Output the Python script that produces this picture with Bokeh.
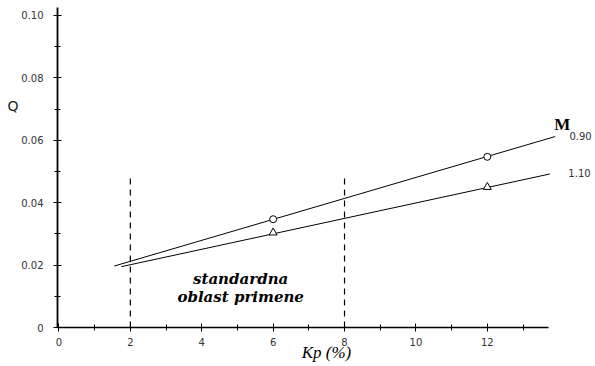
from bokeh.plotting import figure
from bokeh.models import Range1d, FixedTicker, CustomJSTickFormatter, Label, LinearAxis
from bokeh.embed import file_html
from bokeh.resources import INLINE

# ---- data ----
x_ticks = [0, 2, 4, 6, 8, 10, 12]
x_minor = [1, 3, 5, 7, 9, 11, 13]
y_ticks = [0, 0.02, 0.04, 0.06, 0.08, 0.10]
y_minor = [0.01, 0.03, 0.05, 0.07, 0.09]

m090_line_x = [1.55, 13.9]
m090_line_y = [0.0197, 0.0612]
m090_pts_x = [6, 12]
m090_pts_y = [0.0347, 0.0547]

m110_line_x = [1.75, 13.75]
m110_line_y = [0.0195, 0.0492]
m110_pts_x = [6, 12]
m110_pts_y = [0.0304, 0.0450]

zone_x = [2, 8]
zone_bottom = [0, 0]
zone_top = [0.0487, 0.0487]

series_labels = ["0.90", "1.10"]

# ---- figure ----
p = figure(width=595, height=366, output_backend="svg", toolbar_location=None,
           x_range=Range1d(-0.04, 15.03), y_range=Range1d(0, 0.1048),
           min_border_left=57, min_border_right=0, min_border_top=0, min_border_bottom=39)
p.outline_line_color = None
p.xgrid.visible = False
p.ygrid.visible = False
p.background_fill_color = "white"
p.border_fill_color = "white"

# axes
xa = p.xaxis[0]
xa.ticker = FixedTicker(ticks=x_ticks, minor_ticks=x_minor)
xa.bounds = (-0.04, 13.7)
xa.axis_line_width = 1.3
xa.axis_line_color = "black"
xa.major_tick_in = 4
xa.major_tick_out = 4
xa.minor_tick_in = 3
xa.minor_tick_out = 3
xa.major_label_standoff = 6
xa.major_label_text_font = "DejaVu Sans"
xa.major_label_text_font_size = "10px"
xa.major_label_text_color = "#333333"
xa.axis_label = "Kp (%)"
xa.axis_label_text_font = "Liberation Serif"
xa.axis_label_text_font_size = "17px"
xa.axis_label_text_font_style = "italic"
xa.axis_label_text_color = "black"
xa.axis_label_standoff = -6

ya = p.yaxis[0]
ya.ticker = FixedTicker(ticks=y_ticks, minor_ticks=y_minor)
ya.bounds = (0, 0.1025)
ya.axis_line_width = 1.8
ya.axis_line_color = "black"
ya.major_tick_in = 4
ya.major_tick_out = 4
ya.minor_tick_in = 3
ya.minor_tick_out = 3
ya.major_label_standoff = 10
ya.major_label_text_font = "DejaVu Sans"
ya.major_label_text_font_size = "10px"
ya.major_label_text_color = "#333333"
ya.formatter = CustomJSTickFormatter(code='return tick == 0 ? "0" : tick.toFixed(2);')

# Q title on the left (extra blank lines push it up toward the top)
qa = LinearAxis(ticker=FixedTicker(ticks=[]), axis_line_color=None,
                major_tick_in=0, major_tick_out=0, minor_tick_in=0, minor_tick_out=0,
                major_label_text_font_size="0px",
                axis_label="Q" + "\n" * 6, axis_label_text_font="DejaVu Sans",
                axis_label_text_font_size="14px", axis_label_text_color="#222222",
                axis_label_text_font_style="normal",
                axis_label_standoff=0, axis_label_orientation="horizontal")
p.add_layout(qa, "left")

# dashed verticals (standard application zone)
p.segment(x0=zone_x, y0=zone_bottom, x1=zone_x, y1=zone_top,
          line_color="black", line_width=1.2, line_dash="6 5")

# lines
p.line(m090_line_x, m090_line_y, line_color="black", line_width=1)
p.line(m110_line_x, m110_line_y, line_color="black", line_width=1)
p.scatter(m090_pts_x, m090_pts_y, marker="circle", size=7,
          fill_color="white", line_color="black", line_width=1)
p.scatter(m110_pts_x, m110_pts_y, marker="triangle", size=8,
          fill_color="white", line_color="black", line_width=1)

# texts
def lab(x, y, t, font, size, style="normal", align="left", color="black"):
    p.add_layout(Label(x=x, y=y, text=t, text_font=font, text_font_size=size,
                       text_font_style=style, text_align=align, text_baseline="middle",
                       text_color=color))

lab(5.09, 0.0157, "standardna", "DejaVu Serif", "15px", "bold italic", "center")
lab(5.09, 0.0099, "oblast primene", "DejaVu Serif", "15px", "bold italic", "center")
lab(14.1, 0.0651, "M", "Liberation Serif", "17px", "bold", "center")
lab(14.3, 0.0615, series_labels[0], "DejaVu Sans", "10px", "normal", "left", "#333333")
lab(14.27, 0.0494, series_labels[1], "DejaVu Sans", "10px", "normal", "left", "#333333")

open("out.html", "w").write(file_html(p, INLINE))
